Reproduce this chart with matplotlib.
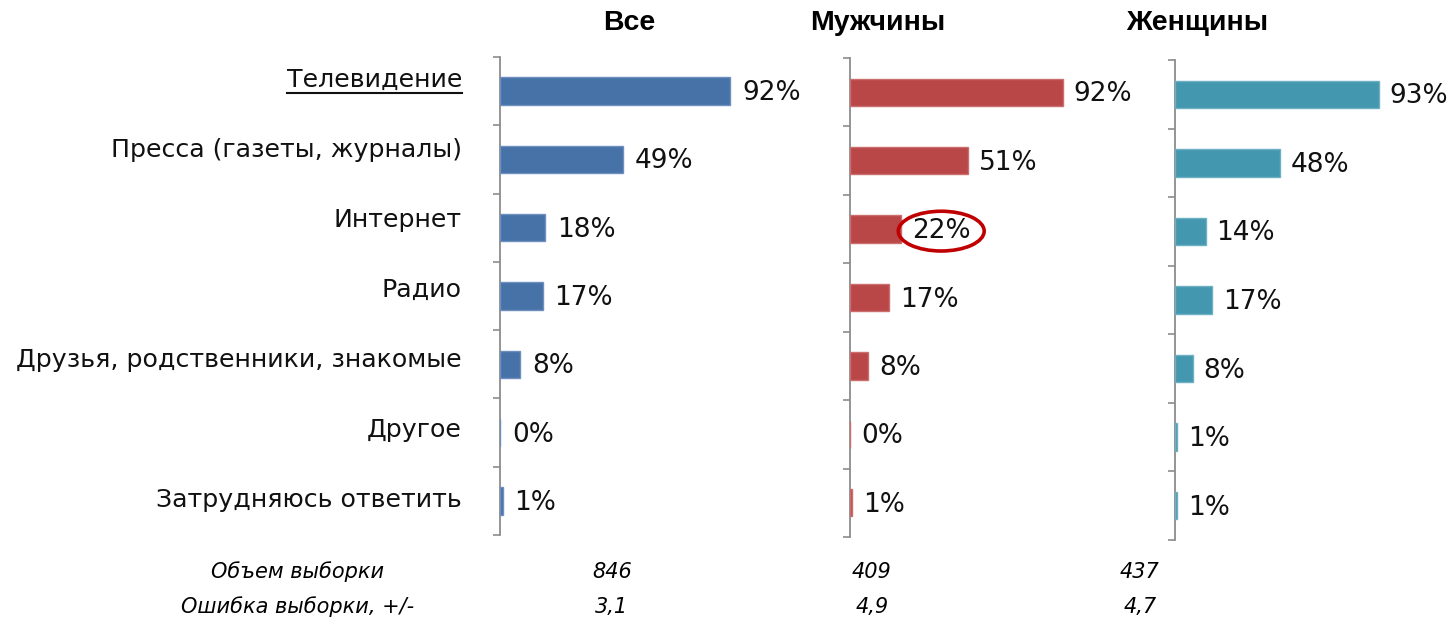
import matplotlib
matplotlib.use("Agg")
import matplotlib.pyplot as plt
import numpy as np

categories = ["Телевидение", "Пресса (газеты, журналы)", "Интернет", "Радио",
              "Друзья, родственники, знакомые", "Другое", "Затрудняюсь ответить"]
groups = ["Все", "Мужчины", "Женщины"]
vals_all = [92, 49, 18, 17, 8, 0, 1]
vals_men = [92, 51, 22, 17, 8, 0, 1]
vals_women = [93, 48, 14, 17, 8, 1, 1]
sample_size = ["846", "409", "437"]
sample_err = ["3,1", "4,9", "4,7"]

colors = ["#4672A8", "#B94748", "#4398B0"]
edges = ["#6F8FBF", "#CB6E6E", "#6DB0C3"]

W, H = 1455, 623
fig = plt.figure(figsize=(W / 100, H / 100), dpi=100)


def fx(px):
    return px / W


def fy(py):
    return 1 - py / H


# pixel boxes for the three panels: left, top, bottom, width of 100%
panels = [(500, 57, 535, 250), (850, 58, 537, 231), (1175, 60, 540, 219)]
data = [vals_all, vals_men, vals_women]
y = np.arange(len(categories))

axes = []
for i, (left, top, bot, w100) in enumerate(panels):
    ax = fig.add_axes([fx(left), fy(bot), fx(w100), (bot - top) / H])
    ax.barh(y, data[i], height=0.4, color=colors[i], edgecolor=edges[i],
            linewidth=1.0, zorder=3)
    ax.set_xlim(0, 100)
    ax.set_ylim(len(categories) - 0.5, -0.5)
    for s in ["top", "right", "bottom"]:
        ax.spines[s].set_visible(False)
    ax.spines["left"].set_color("#8C8C8C")
    ax.spines["left"].set_linewidth(1.3)
    ax.set_xticks([])
    ax.set_yticks([])
    ax.set_yticks(np.arange(-0.5, len(categories)), minor=True)
    ax.tick_params(axis="y", which="minor", length=5, width=1.2, color="#8C8C8C",
                   direction="out", labelleft=False)
    for j, v in enumerate(data[i]):
        t = ax.text(v + 4.8, j + 0.03, f"{v}%", va="center", ha="left",
                    fontsize=19, family="DejaVu Sans", color="#111111")
        if i == 1 and j == 2:
            t.set_bbox(dict(boxstyle="ellipse,pad=0.04", fc="none", ec="#C00000", lw=2.6))
    axes.append(ax)

# category labels
lab = fig.add_axes([0, fy(535), fx(462), 490 / H])
lab.set_xlim(0, 1)
lab.set_ylim(len(categories) - 0.5, -0.5)
lab.axis("off")
label_texts = []
for j, c in enumerate(categories):
    t = lab.text(1, j, c, ha="right", va="center", fontsize=18.2,
                 family="DejaVu Sans", color="#111111")
    label_texts.append(t)

# group headers
for g, px in zip(groups, [629, 878, 1197]):
    fig.text(fx(px), fy(23), g, ha="center", va="center", fontsize=20.5,
             fontweight="bold", family="Liberation Sans")

# sample info
fig.text(fx(298), fy(572), "Объем выборки", ha="center", va="center",
         fontsize=15, style="italic", family="DejaVu Sans")
fig.text(fx(298), fy(607), "Ошибка выборки, +/-", ha="center", va="center",
         fontsize=15, style="italic", family="DejaVu Sans")
for px, n, e in zip([612, 872, 1140], sample_size, sample_err):
    fig.text(fx(px), fy(572), n, ha="center", va="center", fontsize=15,
             style="italic", family="DejaVu Sans")
    fig.text(fx(px), fy(607), e, ha="center", va="center", fontsize=15,
             style="italic", family="DejaVu Sans")

# underline the first category label
fig.canvas.draw()
bb = label_texts[0].get_window_extent()
fig.add_artist(plt.Line2D([bb.x0 / W, bb.x1 / W], [(bb.y0 - 1) / H, (bb.y0 - 1) / H],
                          color="#111111", lw=1.5, transform=fig.transFigure))

fig.savefig("out.png", dpi=100)
